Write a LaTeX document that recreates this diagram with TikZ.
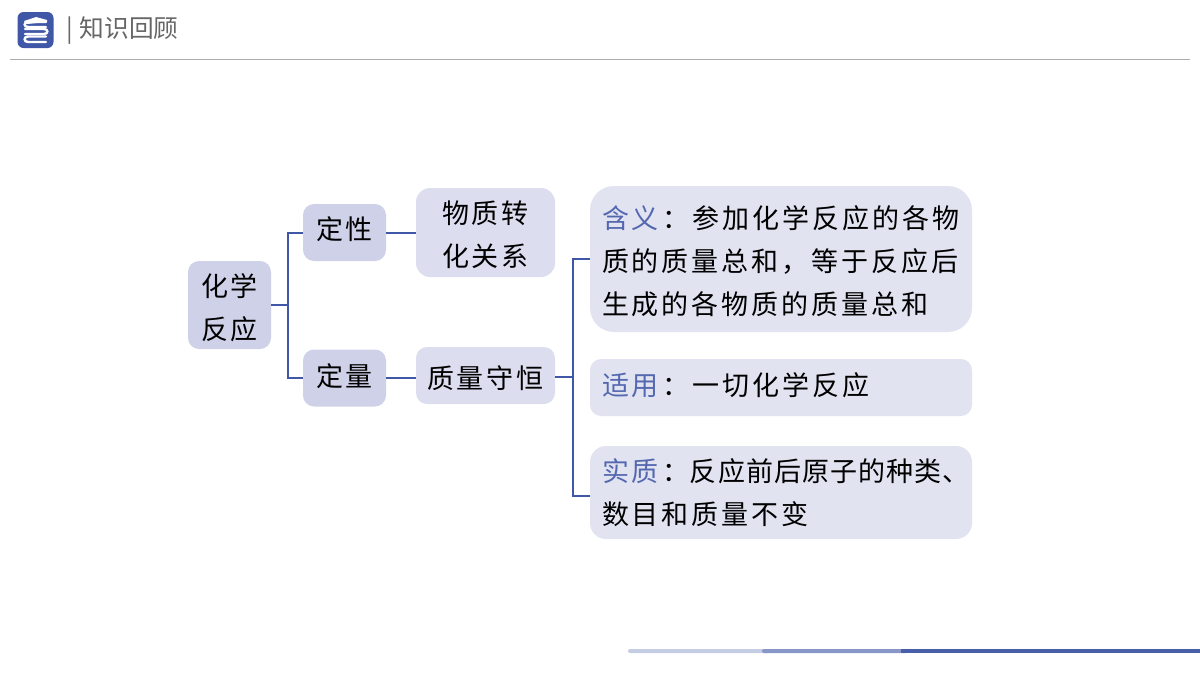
\documentclass[tikz,border=0pt]{standalone}
\usepackage{fontspec}
\newfontfamily\cjk[LetterSpace=11]{Noto Sans CJK SC}
\newfontfamily\cjktight[LetterSpace=4]{Noto Sans CJK SC}
\newfontfamily\titlefont{Noto Sans CJK SC}
\definecolor{linkblue}{HTML}{3F57A6}
\definecolor{labelblue}{HTML}{5468B0}
\definecolor{rootfill}{HTML}{CFD1E8}
\definecolor{midfill}{HTML}{DCDDEF}
\definecolor{leaffill}{HTML}{E1E3F1}
\tikzset{
    box/.style={rounded corners=#1, draw=none, inner sep=0pt, align=left, font=\cjk\fontsize{27}{43}\selectfont},
    box/.default=11pt,
    link/.style={draw=linkblue, line width=2pt},
    bookline/.style={draw=white, line width=2.4pt, line cap=round},
}
\newcommand{\lab}[1]{\textcolor{labelblue}{#1}\hspace{4pt}}
% invisible struts that push a label down or up inside its box
\newcommand{\down}[1]{\rule{0pt}{#1pt}}
\newcommand{\up}[1]{\rule[-#1pt]{0pt}{#1pt}}
\begin{document}
\begin{tikzpicture}[x=1pt, y=-1pt]
    \useasboundingbox (0, 0) rectangle (1200, 675);

    % header
    \node[fill=linkblue, rounded corners=6pt, minimum width=36pt, minimum height=36pt, inner sep=0pt] (icon) at (35.5, 30) {};
    \fill[white] (24, 21) -- (36, 17) -- (47, 20) -- (47, 22) -- (27, 24) -- cycle;
    \draw[bookline] (46, 27) -- (28, 27) .. controls (23.5, 27) and (23.5, 22) .. (28, 22) -- (46, 22);
    \draw[bookline] (25, 34) -- (44, 34) .. controls (48.5, 34) and (48.5, 29) .. (44, 29) -- (25, 29);
    \draw[bookline] (46, 42) -- (28, 42) .. controls (23.5, 42) and (23.5, 36.5) .. (28, 36.5) -- (46, 36.5);
    \node[anchor=west, inner sep=0pt, text=black!60, font=\titlefont\fontsize{24.7}{25}\selectfont] (title) at (66, 31) {|\hspace{7pt}知识回顾};
    \coordinate (ruleL) at (10, 59);
    \coordinate (ruleR) at (1190, 59);
    \draw[black!32, line width=1pt] (ruleL) -- (ruleR);

    % tree
    \node[box, fill=rootfill, minimum width=83pt, minimum height=88pt] (fanying) at (229.5, 305) {\down{28}化学\\反应};
    \node[box, fill=rootfill, minimum width=83pt, minimum height=57pt] (dingxing) at (344.5, 232.5) {\up{8}定性};
    \node[box, fill=rootfill, minimum width=83pt, minimum height=57pt] (dingliang) at (344.5, 378) {\up{6}定量};
    \node[box=14pt, fill=midfill, minimum width=139pt, minimum height=89pt, align=center] (zhuanhua) at (485.5, 232.5) {\down{28}物质转\\化关系};
    \node[box, fill=midfill, minimum width=139pt, minimum height=57pt] (shouheng) at (485.5, 375.5) {\down{28}质量守恒};
    \node[box=24pt, fill=leaffill, minimum width=382pt, minimum height=146pt, text width=358pt] (hanyi) at (781, 259) {\down{28}\lab{含义}：参加化学反应的各物\\质的质量总和，等于反应后\\生成的各物质的质量总和};
    \node[box, fill=leaffill, minimum width=382pt, minimum height=57pt, text width=358pt] (shiyong) at (781, 387.5) {\up{6}\lab{适用}：一切化学反应};
    \node[box=16pt, fill=leaffill, minimum width=382pt, minimum height=93pt, text width=358pt] (shizhi) at (781, 492.5) {\mbox{\lab{实质}：{\cjktight 反应前后原子的种类、}}\\数目和质量不变};

    \coordinate (forkA) at (287.5, 305);
    \coordinate (forkB) at (573, 377);
    \coordinate (shizhiIn) at (590, 495.5);
    \draw[link] (fanying) -- (forkA);
    \draw[link] (forkA) |- (dingxing);
    \draw[link] (forkA) |- (dingliang);
    \draw[link] (dingxing) -- (zhuanhua);
    \draw[link] (dingliang) -- (dingliang -| shouheng.west);
    \draw[link] (shouheng.east |- forkB) -- (forkB);
    \draw[link] (forkB) |- (hanyi);
    \draw[link] (forkB) |- (shizhiIn);

    % footer bar
    \fill[rounded corners=2pt, fill=linkblue!30] (628, 649) rectangle (770, 653);
    \fill[rounded corners=2pt, fill=linkblue!62] (762, 649) rectangle (908, 653);
    \fill[fill=linkblue!95] (901, 649) rectangle (1200, 653);
\end{tikzpicture}
\end{document}
